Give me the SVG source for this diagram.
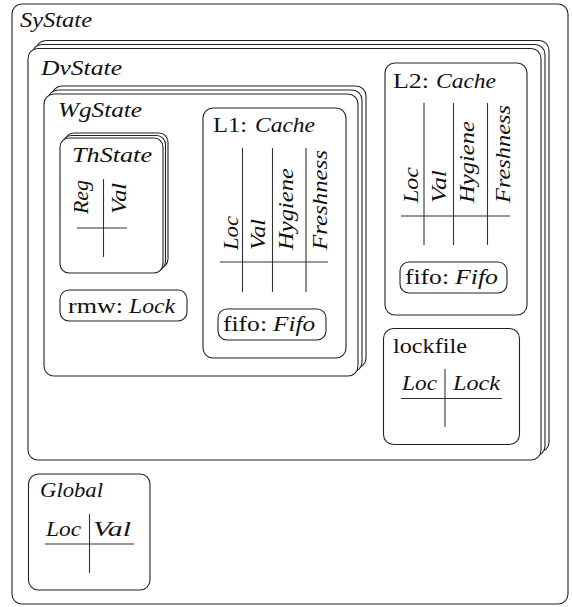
<svg xmlns="http://www.w3.org/2000/svg" width="572" height="607" viewBox="0 0 572 607">
<style>
.box{fill:#fff;stroke:#222;stroke-width:1.1}
.tbl{stroke:#333;stroke-width:1.1;fill:none}
text{font-family:"Liberation Serif","Times New Roman",serif;font-size:21px;font-style:normal;fill:#111}
.it{font-style:italic}
</style>
<rect width="572" height="607" fill="#fff"/>
<g id="SyState">
<rect class="box" x="12" y="4" width="556" height="600" rx="10"/>
<text class="it" x="20" y="27" textLength="72" lengthAdjust="spacingAndGlyphs">SyState</text>
</g>
<g id="DvState">
<rect class="box" x="36" y="40.5" width="513" height="411.5" rx="10"/>
<rect class="box" x="32" y="44.5" width="513" height="411.5" rx="10"/>
<rect class="box" x="28" y="48.5" width="513" height="411.5" rx="10"/>
<text class="it" x="41" y="75" textLength="81" lengthAdjust="spacingAndGlyphs">DvState</text>
</g>
<g id="WgState">
<rect class="box" x="52" y="86" width="314" height="282" rx="10"/>
<rect class="box" x="48" y="90" width="314" height="282" rx="10"/>
<rect class="box" x="44" y="94" width="314" height="282" rx="10"/>
<text class="it" x="58" y="117" textLength="84" lengthAdjust="spacingAndGlyphs">WgState</text>
</g>
<g id="ThState">
<rect class="box" x="65" y="133" width="103" height="135" rx="9"/>
<rect class="box" x="62.5" y="135.5" width="103" height="135" rx="9"/>
<rect class="box" x="60" y="138" width="103" height="135" rx="9"/>
<text class="it" x="72" y="162" textLength="80" lengthAdjust="spacingAndGlyphs">ThState</text>
<line class="tbl" x1="103.5" y1="179" x2="103.5" y2="257"/>
<line class="tbl" x1="77" y1="228" x2="127" y2="228"/>
<text class="it" transform="translate(88,214) rotate(-90)" textLength="34" lengthAdjust="spacingAndGlyphs">Reg</text>
<text class="it" transform="translate(126,214) rotate(-90)" textLength="31" lengthAdjust="spacingAndGlyphs">Val</text>
</g>
<g id="rmw">
<rect class="box" x="60" y="290" width="127" height="31" rx="9"/>
<text x="68" y="313" textLength="55" lengthAdjust="spacingAndGlyphs">rmw:</text>
<text class="it" x="129" y="313" textLength="46" lengthAdjust="spacingAndGlyphs">Lock</text>
</g>
<g id="L1">
<rect class="box" x="203" y="108" width="143" height="250" rx="10"/>
<text x="213" y="132" textLength="34" lengthAdjust="spacingAndGlyphs">L1:</text>
<text class="it" x="255" y="132" textLength="60" lengthAdjust="spacingAndGlyphs">Cache</text>
<line class="tbl" x1="242.5" y1="148" x2="242.5" y2="292"/>
<line class="tbl" x1="272.5" y1="148" x2="272.5" y2="292"/>
<line class="tbl" x1="306" y1="148" x2="306" y2="292"/>
<line class="tbl" x1="220" y1="262" x2="328" y2="262"/>
<text class="it" transform="translate(238,250) rotate(-90)" textLength="34" lengthAdjust="spacingAndGlyphs">Loc</text>
<text class="it" transform="translate(265,250) rotate(-90)" textLength="31" lengthAdjust="spacingAndGlyphs">Val</text>
<text class="it" transform="translate(293,250) rotate(-90)" textLength="82" lengthAdjust="spacingAndGlyphs">Hygiene</text>
<text class="it" transform="translate(327,250) rotate(-90)" textLength="100" lengthAdjust="spacingAndGlyphs">Freshness</text>
<rect class="box" x="218" y="309" width="108" height="31" rx="9"/>
<text x="223" y="331" textLength="44" lengthAdjust="spacingAndGlyphs">fifo:</text>
<text class="it" x="273" y="331" textLength="42" lengthAdjust="spacingAndGlyphs">Fifo</text>
</g>
<g id="L2">
<rect class="box" x="385" y="63" width="142" height="252" rx="10"/>
<text x="393" y="88" textLength="36" lengthAdjust="spacingAndGlyphs">L2:</text>
<text class="it" x="436" y="88" textLength="60" lengthAdjust="spacingAndGlyphs">Cache</text>
<line class="tbl" x1="424" y1="103" x2="424" y2="245"/>
<line class="tbl" x1="453.5" y1="103" x2="453.5" y2="245"/>
<line class="tbl" x1="487.5" y1="103" x2="487.5" y2="245"/>
<line class="tbl" x1="401" y1="216" x2="510" y2="216"/>
<text class="it" transform="translate(418,203) rotate(-90)" textLength="36" lengthAdjust="spacingAndGlyphs">Loc</text>
<text class="it" transform="translate(446,203) rotate(-90)" textLength="33" lengthAdjust="spacingAndGlyphs">Val</text>
<text class="it" transform="translate(474,203) rotate(-90)" textLength="82" lengthAdjust="spacingAndGlyphs">Hygiene</text>
<text class="it" transform="translate(510,203) rotate(-90)" textLength="98" lengthAdjust="spacingAndGlyphs">Freshness</text>
<rect class="box" x="400" y="262" width="107" height="31" rx="9"/>
<text x="405" y="284" textLength="44" lengthAdjust="spacingAndGlyphs">fifo:</text>
<text class="it" x="455" y="284" textLength="43" lengthAdjust="spacingAndGlyphs">Fifo</text>
</g>
<g id="lockfile">
<rect class="box" x="383.5" y="328.5" width="136" height="116" rx="10"/>
<text x="393" y="353" textLength="74" lengthAdjust="spacingAndGlyphs">lockfile</text>
<line class="tbl" x1="445" y1="369" x2="445" y2="427"/>
<line class="tbl" x1="401" y1="398.5" x2="502" y2="398.5"/>
<text class="it" x="402" y="390" textLength="35" lengthAdjust="spacingAndGlyphs">Loc</text>
<text class="it" x="453" y="390" textLength="47" lengthAdjust="spacingAndGlyphs">Lock</text>
</g>
<g id="Global">
<rect class="box" x="28.5" y="474" width="121.5" height="116" rx="10"/>
<text class="it" x="40" y="497" textLength="63" lengthAdjust="spacingAndGlyphs">Global</text>
<line class="tbl" x1="89.5" y1="514" x2="89.5" y2="573"/>
<line class="tbl" x1="45" y1="544" x2="134" y2="544"/>
<text class="it" x="46" y="536" textLength="35" lengthAdjust="spacingAndGlyphs">Loc</text>
<text class="it" x="93" y="536" textLength="38" lengthAdjust="spacingAndGlyphs">Val</text>
</g>
<g id="connectors"></g>
</svg>
